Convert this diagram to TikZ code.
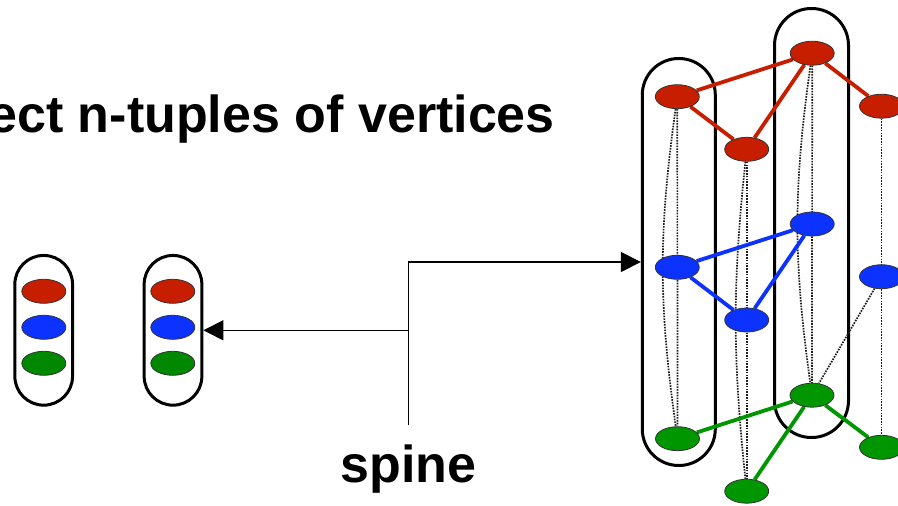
\documentclass[tikz,border=0pt]{standalone}
\usepackage{fontspec}
\setmainfont{Liberation Sans}
\usetikzlibrary{shapes.geometric,arrows.meta}
\definecolor{vred}{RGB}{200,30,0}
\definecolor{vblue}{RGB}{12,50,255}
\definecolor{vgreen}{RGB}{0,150,0}
\definecolor{vgreenB}{RGB}{0,136,0}
\definecolor{dotc}{RGB}{30,30,30}
\pgfdeclarelayer{bg}
\pgfdeclarelayer{mid}
\pgfsetlayers{bg,mid,main}
\tikzset{
  vtx/.style={ellipse, draw=black!80, line width=0.8pt, minimum width=44pt, minimum height=24pt, inner sep=0pt},
  rv/.style={vtx, fill=vred},
  bv/.style={vtx, fill=vblue},
  gv/.style={vtx, fill=vgreen},
  gvB/.style={vtx, fill=vgreenB},
  capsule/.style={draw=black, line width=3pt, rectangle, inner sep=0pt},
  dotline/.style={draw=dotc, line width=1.7pt, dash pattern=on 1.6pt off 1.2pt},
  tie/.style={line width=3.8pt},
  conn/.style={draw=black, line width=1.6pt, -{Triangle[length=20pt,width=20pt]}},
  bigtext/.style={font=\bfseries\fontsize{52}{60}\selectfont, inner sep=0pt}
}
\begin{document}
\begin{tikzpicture}[x=1pt,y=-1pt]
  \clip (0,0) rectangle (898,506);

  % heading
  \node[bigtext, anchor=base east] (title) at (555,132) {ect n-tuples of vertices};

  % graph vertices, four columns
  \node[rv] (r1) at (677.3,96.7) {};
  \node[rv] (r2) at (746.7,149.3) {};
  \node[rv] (r3) at (812.2,53.2) {};
  \node[rv] (r4) at (881.5,106.2) {};
  \node[bv] (b1) at (677.3,267.3) {};
  \node[bv] (b2) at (746.7,320) {};
  \node[bv] (b3) at (812.2,224) {};
  \node[bv] (b4) at (881.5,276.7) {};
  \node[gv] (g1) at (677.5,438.7) {};
  \node[gv] (g2) at (746.7,491.2) {};
  \node[gv] (g3) at (812,395.2) {};
  \node[gv] (g4) at (881.5,447.3) {};

  % the two tuples on the left
  \node[rv]  (lr) at (43.8,291.3) {};
  \node[bv]  (lb) at (43.8,327.3) {};
  \node[gvB] (lg) at (43.8,363.3) {};
  \node[rv]  (mr) at (172.8,291.3) {};
  \node[bv]  (mb) at (172.8,327.3) {};
  \node[gvB] (mg) at (172.8,363.3) {};

  \begin{pgfonlayer}{bg}
    \fill[white] (0,0) rectangle (898,506);
    \node[capsule, minimum width=73pt, minimum height=407pt, rounded corners=36.4pt] (capL) at (678.8,262) {};
    \node[capsule, minimum width=74pt, minimum height=429pt, rounded corners=36.9pt] (capR) at (811.5,223) {};
    \node[capsule, minimum width=57.7pt, minimum height=149.7pt, rounded corners=28.8pt] (cap1) at (43.7,330.3) {};
    \node[capsule, minimum width=57.7pt, minimum height=149.7pt, rounded corners=28.8pt] (cap2) at (173,330.3) {};

    % copies of each vertex linked down its column
    \draw[dotline] (r1) -- (g1);
    \draw[dotline] (r1) to[bend right=8] (g1);
    \draw[dotline] (r2) -- (g2);
    \draw[dotline] (r2) to[bend right=6] (g2);
    \draw[dotline] (r3) -- (g3);
    \draw[dotline] (r3) to[bend right=8] (g3);
    \draw[dotline] (r4) -- (g4);
    \draw[dotline] (b4) -- (g3);
  \end{pgfonlayer}

  \begin{pgfonlayer}{mid}
    \draw[tie, vred] (r1) -- (r3);
    \draw[tie, vred] (r1) -- (r2);
    \draw[tie, vred] (r2) -- (r3);
    \draw[tie, vred] (r3) -- (r4);
    \draw[tie, vblue] (b1) -- (b3);
    \draw[tie, vblue] (b1) -- (b2);
    \draw[tie, vblue] (b2) -- (b3);
    \draw[tie, vgreen] (g1) -- (g3);
    \draw[tie, vgreen] (g2) -- (g3);
    \draw[tie, vgreen] (g3) -- (g4);
  \end{pgfonlayer}

  % spine pointers
  \coordinate (spb) at (408.3,425);
  \draw[conn] (spb) |- (capL.west);
  \draw[conn] (spb |- cap2.east) -- (cap2.east);
  \node[bigtext, anchor=base] (spine) at (408.3,482) {spine};
\end{tikzpicture}
\end{document}
